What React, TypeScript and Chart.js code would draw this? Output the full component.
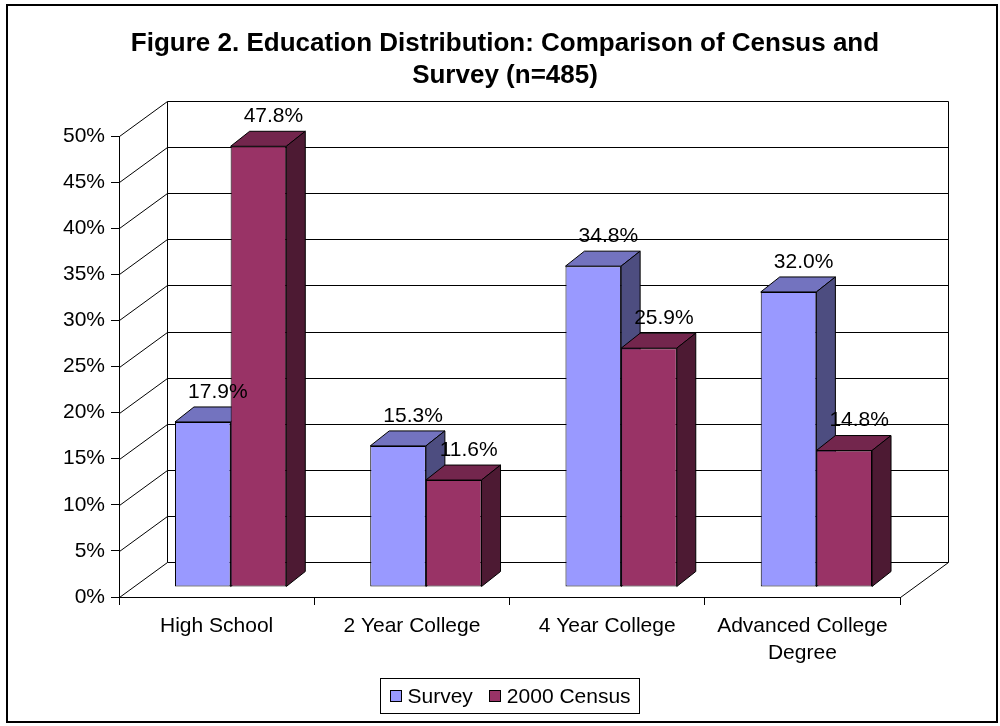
import { useEffect, useRef } from "react";
import { Chart, registerables } from "chart.js";

Chart.register(...registerables);

// ---- data ----
const categories = [["High School"], ["2 Year College"], ["4 Year College"], ["Advanced College", "Degree"]];
const seriesNames = ["Survey", "2000 Census"];
const surveyValues = [17.9, 15.3, 34.8, 32.0];
const censusValues = [47.8, 11.6, 25.9, 14.8];
const yMin = 0;
const yMax = 50;
const yStep = 5;
const titleLines = ["Figure 2. Education Distribution: Comparison of Census and", "Survey (n=485)"];

// ---- styling ----
const FONT = "'Liberation Sans', Arial, Helvetica, sans-serif";
const FRONT = ["#9999FF", "#993366"];
const TOP = ["#7373BF", "#73264D"];
const SIDE = ["#4D4D80", "#4D1A33"];

// depth of the 3-D box (walls) and of the bars inside it
const WALL_DX = 48;
const WALL_DY = 35;
const BAR_SHIFT_X = 14;
const BAR_SHIFT_Y = 10;
const BAR_DX = 19;
const BAR_DY = 15;

function poly(ctx: CanvasRenderingContext2D, pts: number[][], fill: string) {
  ctx.beginPath();
  ctx.moveTo(pts[0][0], pts[0][1]);
  for (let i = 1; i < pts.length; i++) ctx.lineTo(pts[i][0], pts[i][1]);
  ctx.closePath();
  ctx.fillStyle = fill;
  ctx.fill();
  ctx.stroke();
}

const box3d = {
  id: "box3d",
  beforeDraw(chart: any) {
    const { ctx, width, height } = chart;
    ctx.save();
    ctx.fillStyle = "#fff";
    ctx.fillRect(0, 0, width, height);
    ctx.strokeStyle = "#000";
    ctx.lineWidth = 2;
    ctx.strokeRect(7, 5, width - 10, height - 9);
    ctx.restore();
  },
  beforeDatasetsDraw(chart: any) {
    const { ctx, chartArea: a, scales } = chart;
    const y = scales.y;
    const L = Math.round(a.left) + 0.5;
    const R = Math.round(a.right) + 0.5;
    ctx.save();
    ctx.strokeStyle = "#000";
    ctx.lineWidth = 1;
    ctx.beginPath();
    for (const t of y.ticks) {
      const py = Math.round(y.getPixelForValue(t.value)) + 0.5;
      ctx.moveTo(L, py);
      ctx.lineTo(L + WALL_DX, py - WALL_DY);
      ctx.lineTo(R + WALL_DX, py - WALL_DY);
    }
    const top = Math.round(y.getPixelForValue(y.max)) + 0.5;
    const bottom = Math.round(y.getPixelForValue(y.min)) + 0.5;
    ctx.moveTo(L + WALL_DX, top - WALL_DY);
    ctx.lineTo(L + WALL_DX, bottom - WALL_DY);
    ctx.moveTo(R + WALL_DX, top - WALL_DY);
    ctx.lineTo(R + WALL_DX, bottom - WALL_DY);
    ctx.moveTo(R, bottom);
    ctx.lineTo(R + WALL_DX, bottom - WALL_DY);
    ctx.stroke();
    ctx.restore();
  },
  // bars are painted together below, series by series, so the faces overlap correctly
  beforeDatasetDraw() {
    return false;
  },
  afterDatasetsDraw(chart: any) {
    const ctx: CanvasRenderingContext2D = chart.ctx;
    ctx.save();
    ctx.translate(BAR_SHIFT_X, -BAR_SHIFT_Y);
    chart.data.datasets.forEach((_ds: any, di: number) => {
      const meta = chart.getDatasetMeta(di);
      meta.data.forEach((el: any) => {
        const { x, y, base, width } = el.getProps(["x", "y", "base", "width"], true);
        el.draw(ctx);
        const l = x - width / 2;
        const r = x + width / 2;
        ctx.strokeStyle = "#000";
        ctx.lineWidth = 1;
        ctx.lineJoin = "round";
        poly(ctx, [[l, y], [l + BAR_DX, y - BAR_DY], [r + BAR_DX, y - BAR_DY], [r, y]], TOP[di]);
        poly(ctx, [[r, y], [r + BAR_DX, y - BAR_DY], [r + BAR_DX, base - BAR_DY], [r, base]], SIDE[di]);
      });
    });
    // value labels
    ctx.font = `21px ${FONT}`;
    ctx.fillStyle = "#000";
    ctx.textAlign = "center";
    ctx.textBaseline = "middle";
    chart.data.datasets.forEach((ds: any, di: number) => {
      const meta = chart.getDatasetMeta(di);
      meta.data.forEach((el: any, i: number) => {
        const { x, y } = el.getProps(["x", "y"], true);
        ctx.fillText(`${Number(ds.data[i]).toFixed(1)}%`, x + 15, y - 30);
      });
    });
    ctx.restore();
  },
  afterDraw(chart: any) {
    // legend box under the plot
    const { ctx, chartArea: a, height } = chart;
    ctx.save();
    ctx.font = `21px ${FONT}`;
    const sq = 12;
    const gapText = 6;
    const gapItem = 16;
    const pad = 9;
    const widths = seriesNames.map((n) => ctx.measureText(n).width);
    const total =
      pad * 2 + widths.reduce((s, w) => s + w, 0) + seriesNames.length * (sq + gapText) + gapItem * (seriesNames.length - 1);
    const cx = (a.left + a.right) / 2;
    const left = Math.round(cx - total / 2) + 0.5;
    const top = height - 48 + 0.5;
    const h = 35;
    ctx.strokeStyle = "#000";
    ctx.lineWidth = 1;
    ctx.strokeRect(left, top, Math.round(total), h);
    let x = left + pad;
    const cy = top + h / 2;
    ctx.textAlign = "left";
    ctx.textBaseline = "middle";
    seriesNames.forEach((n, i) => {
      ctx.fillStyle = FRONT[i];
      ctx.fillRect(Math.round(x), Math.round(cy - sq / 2), sq, sq);
      ctx.strokeRect(Math.round(x) + 0.5, Math.round(cy - sq / 2) + 0.5, sq - 1, sq - 1);
      x += sq + gapText;
      ctx.fillStyle = "#000";
      ctx.fillText(n, x, cy + 1);
      x += widths[i] + gapItem;
    });
    ctx.restore();
  },
};

export default function App() {
  const ref = useRef<HTMLCanvasElement>(null);
  useEffect(() => {
    if (!ref.current) return;
    Chart.defaults.font.family = FONT;
    const chart = new Chart(ref.current, {
      type: "bar",
      data: {
        labels: categories as any,
        datasets: [
          {
            label: seriesNames[0],
            data: surveyValues,
            backgroundColor: FRONT[0],
            borderColor: "#000",
            borderWidth: 1,
            borderSkipped: false,
            clip: false as any,
          },
          {
            label: seriesNames[1],
            data: censusValues,
            backgroundColor: FRONT[1],
            borderColor: "#000",
            borderWidth: 1,
            borderSkipped: false,
            clip: false as any,
          },
        ],
      },
      options: {
        responsive: false,
        animation: false,
        devicePixelRatio: 1,
        datasets: { bar: { categoryPercentage: 0.57, barPercentage: 1 } },
        layout: { padding: { left: 15, right: 5, top: 0, bottom: 50 } },
        plugins: {
          legend: { display: false },
          tooltip: { enabled: false },
          title: {
            display: true,
            text: titleLines,
            color: "#000",
            font: { family: FONT, size: 26, weight: "bold", lineHeight: 32 / 26 },
            padding: { top: 28, bottom: 44 },
          },
        },
        scales: {
          x: {
            type: "category",
            offset: true,
            grid: { display: true, drawOnChartArea: false, drawTicks: true, tickLength: 8, offset: true, color: "#000" },
            border: { display: true, color: "#000", width: 1 },
            ticks: {
              color: "#000",
              font: { family: FONT, size: 21, lineHeight: 27 / 21 },
              padding: 8,
              maxRotation: 0,
              autoSkip: false,
            },
            afterFit: (s: any) => {
              s.height = 79;
            },
          },
          y: {
            type: "linear",
            position: "left",
            min: yMin,
            max: yMax,
            grid: { display: true, drawOnChartArea: false, drawTicks: true, tickLength: 8, color: "#000" },
            border: { display: true, color: "#000", width: 1 },
            ticks: {
              stepSize: yStep,
              color: "#000",
              font: { family: FONT, size: 21 },
              padding: 6,
              callback: (v: any) => `${v}%`,
            },
            afterFit: (s: any) => {
              s.width = 104;
            },
          },
          // empty right-hand scale: keeps the plot clear of the right edge
          yRight: {
            type: "linear",
            position: "right",
            display: true,
            grid: { display: false },
            border: { display: false },
            ticks: { display: false },
            afterFit: (s: any) => {
              s.width = 95;
            },
          },
        },
      },
      plugins: [box3d],
    } as any);
    return () => chart.destroy();
  }, []);
  return (
    <div style={{ position: "fixed", left: 0, top: 0, width: 1000, height: 726, background: "#fff" }}>
      <canvas ref={ref} width={1000} height={726} style={{ display: "block", width: 1000, height: 726 }} />
    </div>
  );
}
